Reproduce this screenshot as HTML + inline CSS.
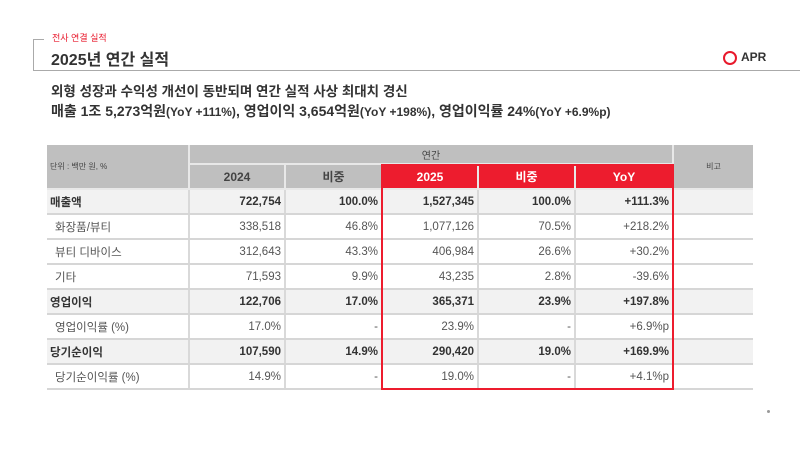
<!DOCTYPE html>
<html><head><meta charset="utf-8"><style>
body{margin:0;width:800px;height:449px;background:#fff;position:relative;overflow:hidden;font-family:"Liberation Sans","Noto Sans CJK KR",sans-serif;color:#333}
.a{position:absolute}
table{position:absolute;left:47px;top:145px;border-collapse:collapse;table-layout:fixed;font-size:11.5px}
td{border-bottom:2px solid #d6d6d6;border-right:2px solid #d9d9d9;padding:0 3px;text-align:right;height:23px;color:#555}
td.l{text-align:left;padding-left:8px}
tr.b td{background:#f2f2f2;font-weight:bold;color:#333}
tr.b td.l{padding-left:3px}
.h td{background:#bfbfbf;text-align:center;border-right:2px solid #e8e8e8;border-bottom:2px solid #e8e8e8;color:#444}
.h2 td{font-weight:bold;font-size:12px}
.r{background:#ed1c2e!important;color:#fff!important;font-weight:bold}
</style></head><body>
<div class="a" style="left:52px;top:31px;font-size:9px;color:#e8192c">전사 연결 실적</div>
<div class="a" style="left:33px;top:39px;width:10px;height:31px;border-left:1px solid #aaa;border-top:1px solid #aaa"></div>
<div class="a" style="left:33px;top:70px;width:767px;border-top:1px solid #aaa"></div>
<div class="a" style="left:51px;top:46px;font-size:16px;font-weight:bold;color:#333">2025년 연간 실적</div>
<div class="a" style="left:723px;top:51px;width:10px;height:10px;border:2px solid #e8192c;border-radius:50%"></div>
<div class="a" style="left:741px;top:50px;font-size:12px;font-weight:bold;color:#333">APR</div>
<div class="a" style="left:51px;top:80px;font-size:13.5px;font-weight:bold;color:#333">외형 성장과 수익성 개선이 동반되며 연간 실적 사상 최대치 경신</div>
<div class="a" style="left:51px;top:101px;font-size:14px;font-weight:bold;color:#333">매출 1조 5,273억원<span style="font-size:12px">(YoY +111%)</span>, 영업이익 3,654억원<span style="font-size:12px">(YoY +198%)</span>, 영업이익률 24%<span style="font-size:12px">(YoY +6.9%p)</span></div>
<table>
<colgroup><col style="width:142px"><col style="width:96px"><col style="width:97px"><col style="width:96px"><col style="width:97px"><col style="width:98px"><col style="width:80px"></colgroup>
<tr class="h"><td rowspan="2" style="text-align:left;font-size:8px;padding-left:3px;height:40px">단위 : 백만 원, %</td><td colspan="5" style="height:18px;font-size:10px">연간</td><td rowspan="2" style="font-size:8px;border-right:0">비고</td></tr>
<tr class="h h2"><td style="height:20px">2024</td><td>비중</td><td class="r">2025</td><td class="r">비중</td><td class="r">YoY</td></tr>
<tr class="b"><td class="l">매출액</td><td>722,754</td><td>100.0%</td><td>1,527,345</td><td>100.0%</td><td>+111.3%</td><td style="border-right:0"></td></tr>
<tr><td class="l">화장품/뷰티</td><td>338,518</td><td>46.8%</td><td>1,077,126</td><td>70.5%</td><td>+218.2%</td><td style="border-right:0"></td></tr>
<tr><td class="l">뷰티 디바이스</td><td>312,643</td><td>43.3%</td><td>406,984</td><td>26.6%</td><td>+30.2%</td><td style="border-right:0"></td></tr>
<tr><td class="l">기타</td><td>71,593</td><td>9.9%</td><td>43,235</td><td>2.8%</td><td>-39.6%</td><td style="border-right:0"></td></tr>
<tr class="b"><td class="l">영업이익</td><td>122,706</td><td>17.0%</td><td>365,371</td><td>23.9%</td><td>+197.8%</td><td style="border-right:0"></td></tr>
<tr><td class="l">영업이익률 (%)</td><td>17.0%</td><td>-</td><td>23.9%</td><td>-</td><td>+6.9%p</td><td style="border-right:0"></td></tr>
<tr class="b"><td class="l">당기순이익</td><td>107,590</td><td>14.9%</td><td>290,420</td><td>19.0%</td><td>+169.9%</td><td style="border-right:0"></td></tr>
<tr><td class="l">당기순이익률 (%)</td><td>14.9%</td><td>-</td><td>19.0%</td><td>-</td><td>+4.1%p</td><td style="border-right:0"></td></tr>
</table>
<div class="a" style="left:381px;top:164px;width:289px;height:222px;border:2px solid #ed1c2e"></div>
<div class="a" style="left:767px;top:410px;width:3px;height:3px;border-radius:50%;background:#999"></div>
</body></html>
